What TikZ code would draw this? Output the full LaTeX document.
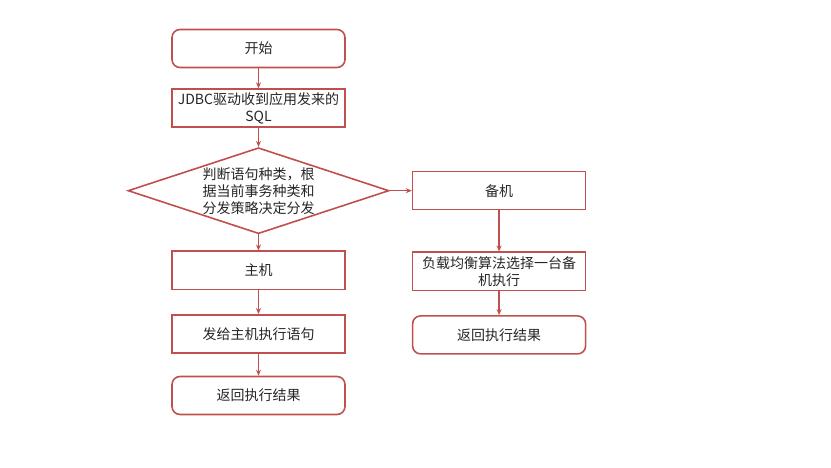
\documentclass[tikz,border=0pt]{standalone}
\usepackage{fontspec}
\setmainfont{Noto Sans CJK SC}
\usetikzlibrary{arrows.meta,positioning,shapes.geometric}
\definecolor{ink}{HTML}{262626}
\definecolor{boxred}{HTML}{C0504D}

\begin{document}
\begin{tikzpicture}[x=1pt,y=-1pt,
    box/.style={draw=boxred,line width=1.6pt,minimum width=173pt,minimum height=38pt,inner ysep=1pt,align=center,text=ink,font=\fontsize{14}{17}\selectfont},
    term/.style={box,rounded corners=8pt},
    decide/.style={diamond,aspect=3,inner sep=0pt,draw=boxred,line width=1.6pt,minimum width=261pt,minimum height=86pt,align=center,text=ink,font=\fontsize{14}{17}\selectfont},
    arr/.style={-{Stealth[length=6pt,width=5pt]},line width=1.3pt,draw=boxred}]
  \useasboundingbox (0,0) rectangle (831,468);
  \node[term] (start) at (258.5,48.5) {开始};
  \node[box,below=20pt of start] (recv) {JDBC驱动收到应用发来的\\SQL};
  \node[decide,below=19pt of recv] (judge) {判断语句种类，根\\据当前事务种类和\\分发策略决定分发};
  \node[box,below=16pt of judge] (master) {主机};
  \node[box,below=24pt of master] (send) {发给主机执行语句};
  \node[term,below=22pt of send] (retl) {返回执行结果};
  \node[box,right=22pt of judge] (slave) {备机};
  \node[box,below=41pt of slave] (balance) {负载均衡算法选择一台备\\机执行};
  \node[term,below=24pt of balance] (retr) {返回执行结果};
  \draw[arr] (start) -- (recv);
  \draw[arr] (recv) -- (judge);
  \draw[arr] (judge) -- (master);
  \draw[arr] (master) -- (send);
  \draw[arr] (send) -- (retl);
  \draw[arr] (judge) -- (slave);
  \draw[arr] (slave) -- (balance);
  \draw[arr] (balance) -- (retr);
\end{tikzpicture}
\end{document}
